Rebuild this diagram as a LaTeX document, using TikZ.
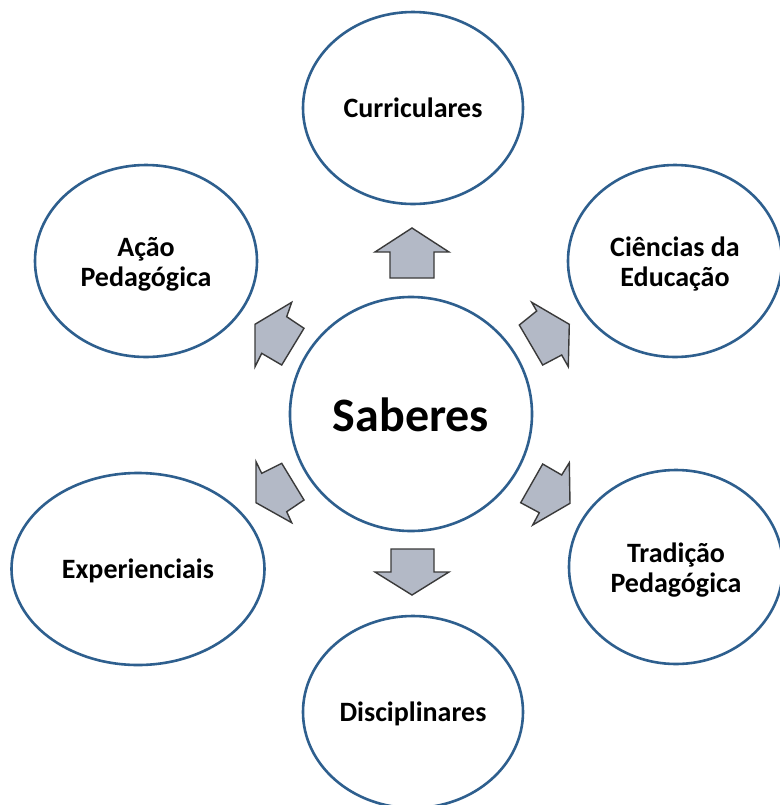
\documentclass[tikz,border=0pt]{standalone}
\usepackage{fontspec}
\setmainfont{Carlito}
\usetikzlibrary{shapes.geometric}
\definecolor{ringblue}{HTML}{2E5F8E}
\definecolor{arrowfill}{HTML}{B3B9C6}
\definecolor{arrowline}{HTML}{3A3A3A}
\newcommand\mytopstrut{\rule{0pt}{14pt}}
\newcommand\mybotstrut{\rule[-4pt]{0pt}{0pt}}
\begin{document}
\begin{tikzpicture}[x=0.5pt,y=-0.5pt,
  ring/.style={ellipse,draw=ringblue,line width=1.3pt,fill=white,inner sep=0pt,outer sep=0pt,
    align=center,font=\fontsize{14}{15}\selectfont\bfseries},
  oneline/.style={text height=12.5pt,text depth=3pt},
  blockarrow/.style={draw=arrowline,fill=arrowfill,line width=0.7pt,line join=miter}]
\clip (0,0) rectangle (780,805);
\fill[white] (0,0) rectangle (780,805);
% nodes
\node[ring,minimum width=121pt,minimum height=117pt,font=\fontsize{24}{28}\selectfont\bfseries,text height=22pt,text depth=5pt] (sab) at (411,414) {Saberes};
\node[ring,oneline,minimum width=110pt,minimum height=96pt] (cur) at (413,108) {Curriculares};
\node[ring,minimum width=107pt,minimum height=96pt] (cie) at (675,261) {\mytopstrut Ciências da\\Educação\mybotstrut};
\node[ring,minimum width=107pt,minimum height=97pt] (tra) at (676,567) {\mytopstrut Tradição\\Pedagógica\mybotstrut};
\node[ring,oneline,minimum width=110pt,minimum height=96pt] (dis) at (413,712) {Disciplinares};
\node[ring,oneline,minimum width=126.5pt,minimum height=96pt] (exp) at (138,569) {Experienciais};
\node[ring,minimum width=111pt,minimum height=96pt] (aca) at (146,261) {\mytopstrut Ação\\Pedagógica\mybotstrut};
% block arrows
\draw[blockarrow] (412,228) -- (449,252) -- (434,252) -- (434,278) -- (390,278) -- (390,252) -- (375,252) -- cycle;
\draw[blockarrow] (391,549) -- (434,549) -- (434,572) -- (449,572) -- (412,595) -- (375,572) -- (391,572) -- cycle;
\draw[blockarrow] (255,324.3) -- (291.7,302.3) -- (286.7,316.7) -- (304,328.3) -- (281.7,365) -- (261.7,353.3) -- (255,366.7) -- cycle;
\draw[blockarrow] (569.3,324.3) -- (531.7,302.3) -- (536.7,311) -- (519.3,325) -- (542.7,365) -- (561.7,355) -- (568.3,366.7) -- cycle;
\draw[blockarrow] (256,461.7) -- (261.7,473.3) -- (281.7,463.3) -- (304,500) -- (286.7,511.7) -- (291.7,522.7) -- (256,502.7) -- cycle;
\draw[blockarrow] (569.3,462.7) -- (561.7,475) -- (542.7,464) -- (520.7,502.7) -- (539.3,512.7) -- (532.7,525) -- (570,503.3) -- cycle;
\end{tikzpicture}
\end{document}
